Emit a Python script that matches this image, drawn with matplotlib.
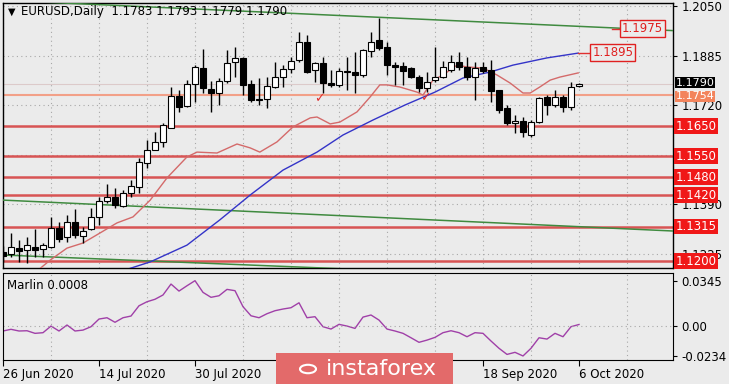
import matplotlib.pyplot as plt
from matplotlib.patches import Rectangle, Circle

# daily candles, 26 Jun 2020 .. 6 Oct 2020 (bar index 0..72)
opens = [1.1230, 1.1223, 1.1243, 1.1237, 1.1247, 1.1240, 1.1247, 1.1310, 1.1280, 1.1330,
         1.1283, 1.1307, 1.1347, 1.1400, 1.1413, 1.1383, 1.1427, 1.1447, 1.1527, 1.1570,
         1.1597, 1.1643, 1.1750, 1.1717, 1.1790, 1.1843, 1.1773, 1.1760, 1.1800, 1.1863,
         1.1877, 1.1790, 1.1740, 1.1740, 1.1780, 1.1813, 1.1840, 1.1870, 1.1930, 1.1837,
         1.1860, 1.1793, 1.1787, 1.1833, 1.1830, 1.1820, 1.1900, 1.1937, 1.1913, 1.1853,
         1.1850, 1.1843, 1.1813, 1.1777, 1.1803, 1.1813, 1.1837, 1.1863, 1.1847, 1.1813,
         1.1847, 1.1837, 1.1770, 1.1710, 1.1660, 1.1667, 1.1620, 1.1663, 1.1747, 1.1720,
         1.1747, 1.1713, 1.1783]
highs = [1.1250, 1.1293, 1.1270, 1.1280, 1.1307, 1.1260, 1.1347, 1.1330, 1.1353, 1.1373,
         1.1313, 1.1377, 1.1413, 1.1457, 1.1443, 1.1437, 1.1470, 1.1543, 1.1603, 1.1630,
         1.1660, 1.1780, 1.1770, 1.1803, 1.1853, 1.1907, 1.1800, 1.1810, 1.1903, 1.1913,
         1.1880, 1.1803, 1.1810, 1.1813, 1.1863, 1.1853, 1.1880, 1.1963, 1.1953, 1.1863,
         1.1880, 1.1837, 1.1843, 1.1880, 1.1897, 1.1907, 1.1963, 1.2010, 1.1930, 1.1863,
         1.1863, 1.1847, 1.1820, 1.1830, 1.1913, 1.1867, 1.1887, 1.1897, 1.1880, 1.1863,
         1.1863, 1.1870, 1.1770, 1.1720, 1.1687, 1.1680, 1.1670, 1.1747, 1.1753, 1.1770,
         1.1753, 1.1797, 1.1793]
lows = [1.1197, 1.1213, 1.1197, 1.1193, 1.1213, 1.1213, 1.1243, 1.1263, 1.1263, 1.1277,
        1.1260, 1.1303, 1.1320, 1.1393, 1.1377, 1.1380, 1.1413, 1.1427, 1.1510, 1.1577,
        1.1580, 1.1643, 1.1697, 1.1713, 1.1730, 1.1760, 1.1697, 1.1720, 1.1793, 1.1813,
        1.1753, 1.1730, 1.1720, 1.1710, 1.1777, 1.1780, 1.1827, 1.1863, 1.1827, 1.1797,
        1.1760, 1.1780, 1.1780, 1.1770, 1.1760, 1.1813, 1.1880, 1.1903, 1.1820, 1.1787,
        1.1787, 1.1810, 1.1763, 1.1763, 1.1797, 1.1810, 1.1830, 1.1837, 1.1803, 1.1737,
        1.1827, 1.1730, 1.1693, 1.1653, 1.1627, 1.1613, 1.1613, 1.1660, 1.1687, 1.1713,
        1.1697, 1.1703, 1.1779]
closes = [1.1217, 1.1247, 1.1233, 1.1253, 1.1237, 1.1253, 1.1310, 1.1273, 1.1330, 1.1287,
          1.1300, 1.1347, 1.1400, 1.1413, 1.1387, 1.1427, 1.1450, 1.1530, 1.1570, 1.1597,
          1.1653, 1.1750, 1.1713, 1.1790, 1.1847, 1.1777, 1.1760, 1.1800, 1.1860, 1.1877,
          1.1787, 1.1737, 1.1737, 1.1783, 1.1813, 1.1840, 1.1867, 1.1930, 1.1830, 1.1860,
          1.1793, 1.1787, 1.1833, 1.1830, 1.1820, 1.1903, 1.1930, 1.1910, 1.1853, 1.1847,
          1.1833, 1.1813, 1.1777, 1.1797, 1.1813, 1.1847, 1.1863, 1.1847, 1.1813, 1.1843,
          1.1833, 1.1767, 1.1703, 1.1660, 1.1667, 1.1630, 1.1663, 1.1743, 1.1720, 1.1747,
          1.1713, 1.1780, 1.1790]

# moving averages (bar index, price)
red_ma_x = [4.4, 5.9, 8.0, 10.0, 12.1, 14.25, 16.25, 18.4, 20.5, 23.0, 24.25, 26.75, 29.25,
            30.9, 32.1, 34.25, 36.25, 38.4, 39.25, 40.9, 42.1, 44.25, 45.9, 47.1, 48.0, 49.6,
            51.75, 52.5, 53.75, 55.0, 56.75, 58.0, 60.0, 61.75, 63.4, 65.0, 65.9, 67.1, 68.4,
            69.6, 71.9]
red_ma_y = [1.1170, 1.1203, 1.1243, 1.1260, 1.1293, 1.1327, 1.1347, 1.1403, 1.1477, 1.1547,
            1.1563, 1.1560, 1.1590, 1.1577, 1.1563, 1.1597, 1.1647, 1.1677, 1.1680, 1.1657,
            1.1663, 1.1697, 1.1747, 1.1787, 1.1787, 1.1780, 1.1763, 1.1753, 1.1803, 1.1820,
            1.1853, 1.1847, 1.1843, 1.1820, 1.1793, 1.1760, 1.1760, 1.1780, 1.1803, 1.1813,
            1.1827]
blue_ma_x = [15.25, 18.4, 23.0, 27.1, 30.9, 35.0, 39.25, 42.5, 46.25, 50.25, 54.0, 57.5,
             60.9, 63.75, 68.0, 71.9]
blue_ma_y = [1.1170, 1.1197, 1.1253, 1.1337, 1.1420, 1.1503, 1.1563, 1.1620, 1.1670, 1.1720,
             1.1763, 1.1810, 1.1830, 1.1853, 1.1877, 1.1893]

# trend lines (two points each)
trend_x = [[5.0, 83.75], [0.0, 83.75], [0.0, 43.4]]
trend_y = [[1.2063, 1.1968], [1.1403, 1.1300], [1.1220, 1.1173]]

levels = [1.1650, 1.1550, 1.1480, 1.1420, 1.1315, 1.1200]
last_price = 1.1790
orange_level = 1.1754
price_ticks = [1.2050, 1.1885, 1.1720, 1.1555, 1.1390, 1.1225]
price_labels = ['1.2050', '1.1885', '1.1720', '', '1.1390', '1.1225']

target_prices = [1.1975, 1.1895]
target_x = [77.2, 73.5]
target_from = [76.1, 71.9]

check_x = [39.6, 52.75]
check_y = [1.1740, 1.1743]

marlin = [-0.0042, -0.0029, -0.0042, -0.0040, -0.0060, -0.0055, -0.0004, -0.0042, 0.0004, -0.0042,
          -0.0035, -0.0009, 0.0050, 0.0060, 0.0025, 0.0060, 0.0073, 0.0152, 0.0183, 0.0202,
          0.0235, 0.0319, 0.0265, 0.0306, 0.0345, 0.0255, 0.0217, 0.0229, 0.0278, 0.0268,
          0.0145, 0.0075, 0.0060, 0.0091, 0.0114, 0.0127, 0.0137, 0.0175, 0.0060, 0.0068,
          -0.0009, -0.0027, 0.0009, -0.0004, -0.0022, 0.0065, 0.0081, 0.0042, -0.0027, -0.0042,
          -0.0060, -0.0094, -0.0129, -0.0112, -0.0091, -0.0055, -0.0040, -0.0055, -0.0086, -0.0055,
          -0.0060, -0.0119, -0.0175, -0.0222, -0.0206, -0.0234, -0.0175, -0.0094, -0.0104, -0.0060,
          -0.0086, -0.0009, 0.0008]
marlin_ticks = [0.0345, 0.0, -0.0234]
marlin_labels = ['0.0345', '0.00', '-0.0234']

# dates under the watermark are not visible
date_idx = [0, 12, 24, 36, 48, 60, 72]
date_lbl = ['26 Jun 2020', '14 Jul 2020', '30 Jul 2020', '', '', '18 Sep 2020', '6 Oct 2020']

BG = '#ebebeb'
W, H = 729, 384
fig = plt.figure(figsize=(W / 100, H / 100), dpi=100, facecolor=BG)


def fx(px):
    return px / W


def fy(py):
    return 1 - py / H


ax = fig.add_axes([fx(3), fy(268), fx(670), 265 / H], facecolor=BG)
ax2 = fig.add_axes([fx(3), fy(360), fx(670), 87 / H], facecolor=BG)
XMAX = 83.75

# --- main price panel
ax.set_xlim(0, XMAX)
ax.set_ylim(1.11767, 1.2060)
ax.set_yticks(price_ticks)
ax.set_yticklabels(price_labels, fontsize=8.5)
ax.yaxis.tick_right()
ax.tick_params(axis='y', length=3, pad=3, width=0.8)
ax.set_xticks(range(0, 84, 6))
ax.tick_params(axis='x', length=0, labelbottom=False)
ax.grid(True, ls=(0, (1, 3)), color='#a8a8a8', lw=0.8)
for s in ax.spines.values():
    s.set_linewidth(1)

for lv in levels:
    ax.axhline(lv, color='#d85454', lw=1.8, zorder=2)
ax.axhline(orange_level, color='#f2a088', lw=1.5, zorder=2)
ax.axhline(last_price, color='#dccaca', lw=0.8, zorder=2)

for tx, ty in zip(trend_x, trend_y):
    ax.plot(tx, ty, color='#3f8a3f', lw=1.1, zorder=3)

ax.plot(red_ma_x, red_ma_y, color='#d46a6a', lw=1, zorder=3)
ax.plot(blue_ma_x, blue_ma_y, color='#3434c8', lw=1, zorder=3)

for i, (o, h, l, c) in enumerate(zip(opens, highs, lows, closes)):
    ax.vlines(i, l, h, color='black', lw=1, zorder=4)
    bull = c >= o
    ax.bar(i, max(abs(c - o), 0.00006), bottom=min(o, c), width=0.72,
           color='white' if bull else 'black', edgecolor='black', lw=0.8, zorder=5)

for cxv, cyv in zip(check_x, check_y):
    ax.text(cxv, cyv, '\u2713', color='#e03030', fontsize=9, ha='center', va='center',
            zorder=6)

for tp, txv, tf in zip(target_prices, target_x, target_from):
    ax.plot([tf, txv], [tp, tp], color='#e03030', lw=1, zorder=6)
    ax.text(txv + 0.15, tp, '%.4f' % tp, color='#e02020', fontsize=8.5, ha='left',
            va='center', zorder=7,
            bbox=dict(boxstyle='square,pad=0.15', fc=BG, ec='#e02020', lw=1))

ytr = ax.get_yaxis_transform()
for lv in levels:
    ax.text(1.004, lv, '%.4f' % lv, transform=ytr, color='white', fontsize=8.5,
            ha='left', va='center', clip_on=False, zorder=8,
            bbox=dict(boxstyle='square,pad=0.12', fc='#f01818', ec='none'))
ax.annotate('%.4f' % orange_level, (1.004, orange_level), xycoords=ytr,
            xytext=(0, -1.2), textcoords='offset points', color='white', fontsize=8,
            ha='left', va='center', annotation_clip=False, zorder=8,
            bbox=dict(boxstyle='square,pad=0.02', fc='#f3845c', ec='none'))
ax.annotate('%.4f' % last_price, (1.004, last_price), xycoords=ytr,
            xytext=(0, 1.0), textcoords='offset points', color='white', fontsize=8,
            ha='left', va='center', annotation_clip=False, zorder=9,
            bbox=dict(boxstyle='square,pad=0.02', fc='black', ec='none'))

fig.text(fx(8), fy(12), '\u25bc', fontsize=7, va='center', ha='left')
fig.text(fx(21), fy(12), 'EURUSD,Daily  %.4f %.4f %.4f %.4f'
         % (opens[-1], highs[-1], lows[-1], closes[-1]),
         fontsize=8.5, va='center', ha='left')

# --- Marlin panel
ax2.set_xlim(0, XMAX)
ax2.set_ylim(-0.0265, 0.0404)
ax2.plot(range(len(marlin)), marlin, color='#a040a8', lw=1)
ax2.axhline(0, ls=(0, (1, 3)), color='#a8a8a8', lw=0.8)
ax2.set_xticks(range(0, 84, 6), minor=True)
ax2.grid(True, which='minor', axis='x', ls=(0, (1, 3)), color='#a8a8a8', lw=0.8)
ax2.tick_params(axis='x', which='minor', length=0)
ax2.set_xticks(date_idx)
ax2.set_xticklabels(date_lbl, fontsize=8.5, ha='left')
ax2.tick_params(axis='x', which='major', length=4, pad=2, width=0.8)
ax2.set_yticks(marlin_ticks)
ax2.set_yticklabels(marlin_labels, fontsize=8.5)
ax2.yaxis.tick_right()
ax2.tick_params(axis='y', length=3, pad=3, width=0.8)
ax2.text(0.006, 0.86, 'Marlin 0.0008', transform=ax2.transAxes, fontsize=8.5,
         ha='left', va='center')

# --- watermark
fig.patches.append(Rectangle((fx(276), 0), fx(177), 31 / H, transform=fig.transFigure,
                             fc='#e36a6a', ec='none', zorder=10))
fig.patches.append(Circle((fx(308), fy(369)), 0.011, transform=fig.transFigure,
                          fc='none', ec='white', lw=1.5, zorder=11))
fig.text(fx(381), fy(369), 'instaforex', color='white', fontsize=16, ha='center',
         va='center', zorder=12)

fig.savefig('out.png', dpi=100, facecolor=BG)
